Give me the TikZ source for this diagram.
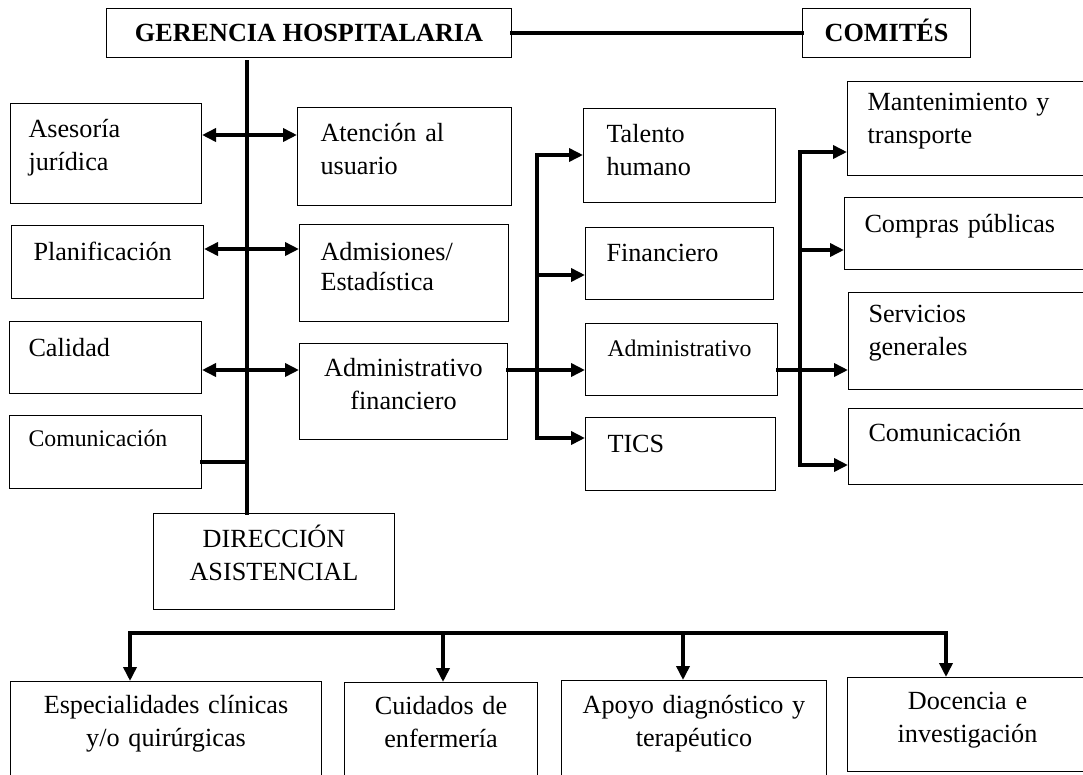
\documentclass[tikz,border=0pt]{standalone}
\usepackage{fontspec}
\setmainfont{Liberation Serif}
\usetikzlibrary{arrows.meta,positioning}

\begin{document}
\begin{tikzpicture}[x=1pt, y=-1pt,
    box/.style={draw, line width=1pt, anchor=north west, inner xsep=20pt, inner ysep=0pt, align=left, text height=33pt, font=\fontsize{26.2pt}{33pt}\selectfont},
    cbox/.style={box, align=center, inner xsep=8pt},
    head/.style={draw, line width=1pt, anchor=north west, minimum height=49pt, inner sep=0pt, text height=16pt, text depth=0pt, font=\fontsize{26.2pt}{33pt}\selectfont\bfseries},
    smalltext/.style={font=\fontsize{23.8pt}{30pt}\selectfont},
    link/.style={line width=3.9pt, line cap=rect},
    arrow/.style={link, -{Triangle[length=14pt, width=13pt]}},
    darrow/.style={link, {Triangle[length=14pt, width=13pt]}-{Triangle[length=14pt, width=13pt]}}
]
    \clip (0,0) rectangle (1083,774);

    % Gerencia
    \node[head, minimum width=405pt] (gerencia) at (106,8) {GERENCIA HOSPITALARIA};
    \node[head, minimum width=168pt] (comites) at (802,8) {COMITÉS};

    % Staff units
    \node[box, inner xsep=18pt, text width=155pt, text height=34pt, text depth=66pt] (asesoria) at (10,103) {Asesoría\\jurídica};
    \node[box, inner xsep=23pt, text width=168pt, text height=34pt, text depth=64pt] (atencion) at (297,107) {Atención al\\usuario};
    \node[box, inner xsep=22pt, text width=148pt, text height=35pt, text depth=38pt] (planificacion) at (11,225) {Planificación};
    \node[box, inner xsep=21pt, text width=167pt, text height=36pt, text depth=61pt, font=\fontsize{26.2pt}{30pt}\selectfont] (admisiones) at (299,224) {Admisiones/\\Estadística};
    \node[box, inner xsep=19pt, text width=154pt, text height=35pt, text depth=37pt] (calidad) at (9,321) {Calidad};
    \node[cbox, text width=192pt, text depth=63pt] (admin_fin) at (299,343) {Administrativo\\financiero};
    \node[box, smalltext, inner xsep=19pt, text width=154pt, text height=31pt, text depth=42pt] (comunicacion_izq) at (9,415) {Comunicación};
    \node[cbox, text width=225pt, text height=34pt, text depth=62pt] (direccion) at (153,513) {DIRECCIÓN\\ASISTENCIAL};

    % Administrativo financiero
    \node[box, inner xsep=23pt, text width=146pt, text height=34pt, text depth=60pt] (talento) at (583,108) {Talento\\humano};
    \node[box, inner xsep=21pt, text width=146pt, text height=34pt, text depth=38pt] (financiero) at (585,227) {Financiero};
    \node[box, smalltext, inner xsep=22pt, text width=148pt, text depth=39pt] (administrativo) at (585,323) {Administrativo};
    \node[box, inner xsep=22pt, text width=146pt, text height=35pt, text depth=38pt] (tics) at (585,417) {TICS};

    % Administrativo
    \node[box, text width=240pt, text height=29pt, text depth=65pt] (mantenimiento) at (847,81) {Mantenimiento y\\transporte};
    \node[box, text width=240pt, text height=35pt, text depth=37pt] (compras) at (844,197) {Compras públicas};
    \node[box, text width=240pt, text height=30pt, text depth=67pt] (servicios) at (848,292) {Servicios\\generales};
    \node[box, text width=240pt, text depth=43pt] (comunicacion_der) at (848,408) {Comunicación};

    % Direccion asistencial
    \node[cbox, text width=295pt, text height=32pt, text depth=80pt] (especialidades) at (10,681) {Especialidades clínicas\\y/o quirúrgicas};
    \node[cbox, text width=177pt, text height=32pt, text depth=80pt] (cuidados) at (344,682) {Cuidados de\\enfermería};
    \node[cbox, text width=249pt, text height=33pt, text depth=80pt] (apoyo) at (561,680) {Apoyo diagnóstico y\\terapéutico};
    \node[cbox, text width=224pt, text height=32pt, text depth=62pt] (docencia) at (847,677) {Docencia e\\investigación};

    % Main line
    \coordinate (tronco) at (247,62);
    \draw[link] (tronco) -- (tronco |- direccion.north);
    \draw[link] (gerencia.east) -- (comites.west);

    % Arrows
    \coordinate (f1) at (247,135);
    \coordinate (f2) at (247,249);
    \coordinate (f3) at (247,370);
    \coordinate (f4) at (247,462);
    \draw[darrow] (f1 -| asesoria.east) -- (f1 -| atencion.west);
    \draw[darrow] (f2 -| planificacion.east) -- (f2 -| admisiones.west);
    \draw[darrow] (f3 -| calidad.east) -- (f3 -| admin_fin.west);
    \draw[link] (f4 -| comunicacion_izq.east) -- (f4);

    \coordinate (ra) at (537,155);
    \coordinate (rb) at (537,275);
    \coordinate (rc) at (537,438);
    \draw[arrow] (f3 -| admin_fin.east) -- (f3 -| administrativo.west);
    \draw[link] (ra) -- (rc);
    \draw[arrow] (ra) -- (ra -| talento.west);
    \draw[arrow] (rb) -- (rb -| financiero.west);
    \draw[arrow] (rc) -- (rc -| tics.west);

    \coordinate (sa) at (800,152);
    \coordinate (sb) at (800,250);
    \coordinate (sc) at (800,465);
    \draw[link] (sa) -- (sc);
    \draw[arrow] (sa) -- (sa -| mantenimiento.west);
    \draw[arrow] (sb) -- (sb -| compras.west);
    \draw[arrow] (f3 -| administrativo.east) -- (f3 -| servicios.west);
    \draw[arrow] (sc) -- (sc -| comunicacion_der.west);

    \coordinate (ba) at (130,633);
    \coordinate (bb) at (443,633);
    \coordinate (bc) at (683,633);
    \coordinate (bd) at (946,633);
    \draw[link] (ba) -- (bd);
    \draw[arrow] (ba) -- (ba |- especialidades.north);
    \draw[arrow] (bb) -- (bb |- cuidados.north);
    \draw[arrow] (bc) -- (bc |- apoyo.north);
    \draw[arrow] (bd) -- (bd |- docencia.north);
\end{tikzpicture}
\end{document}
